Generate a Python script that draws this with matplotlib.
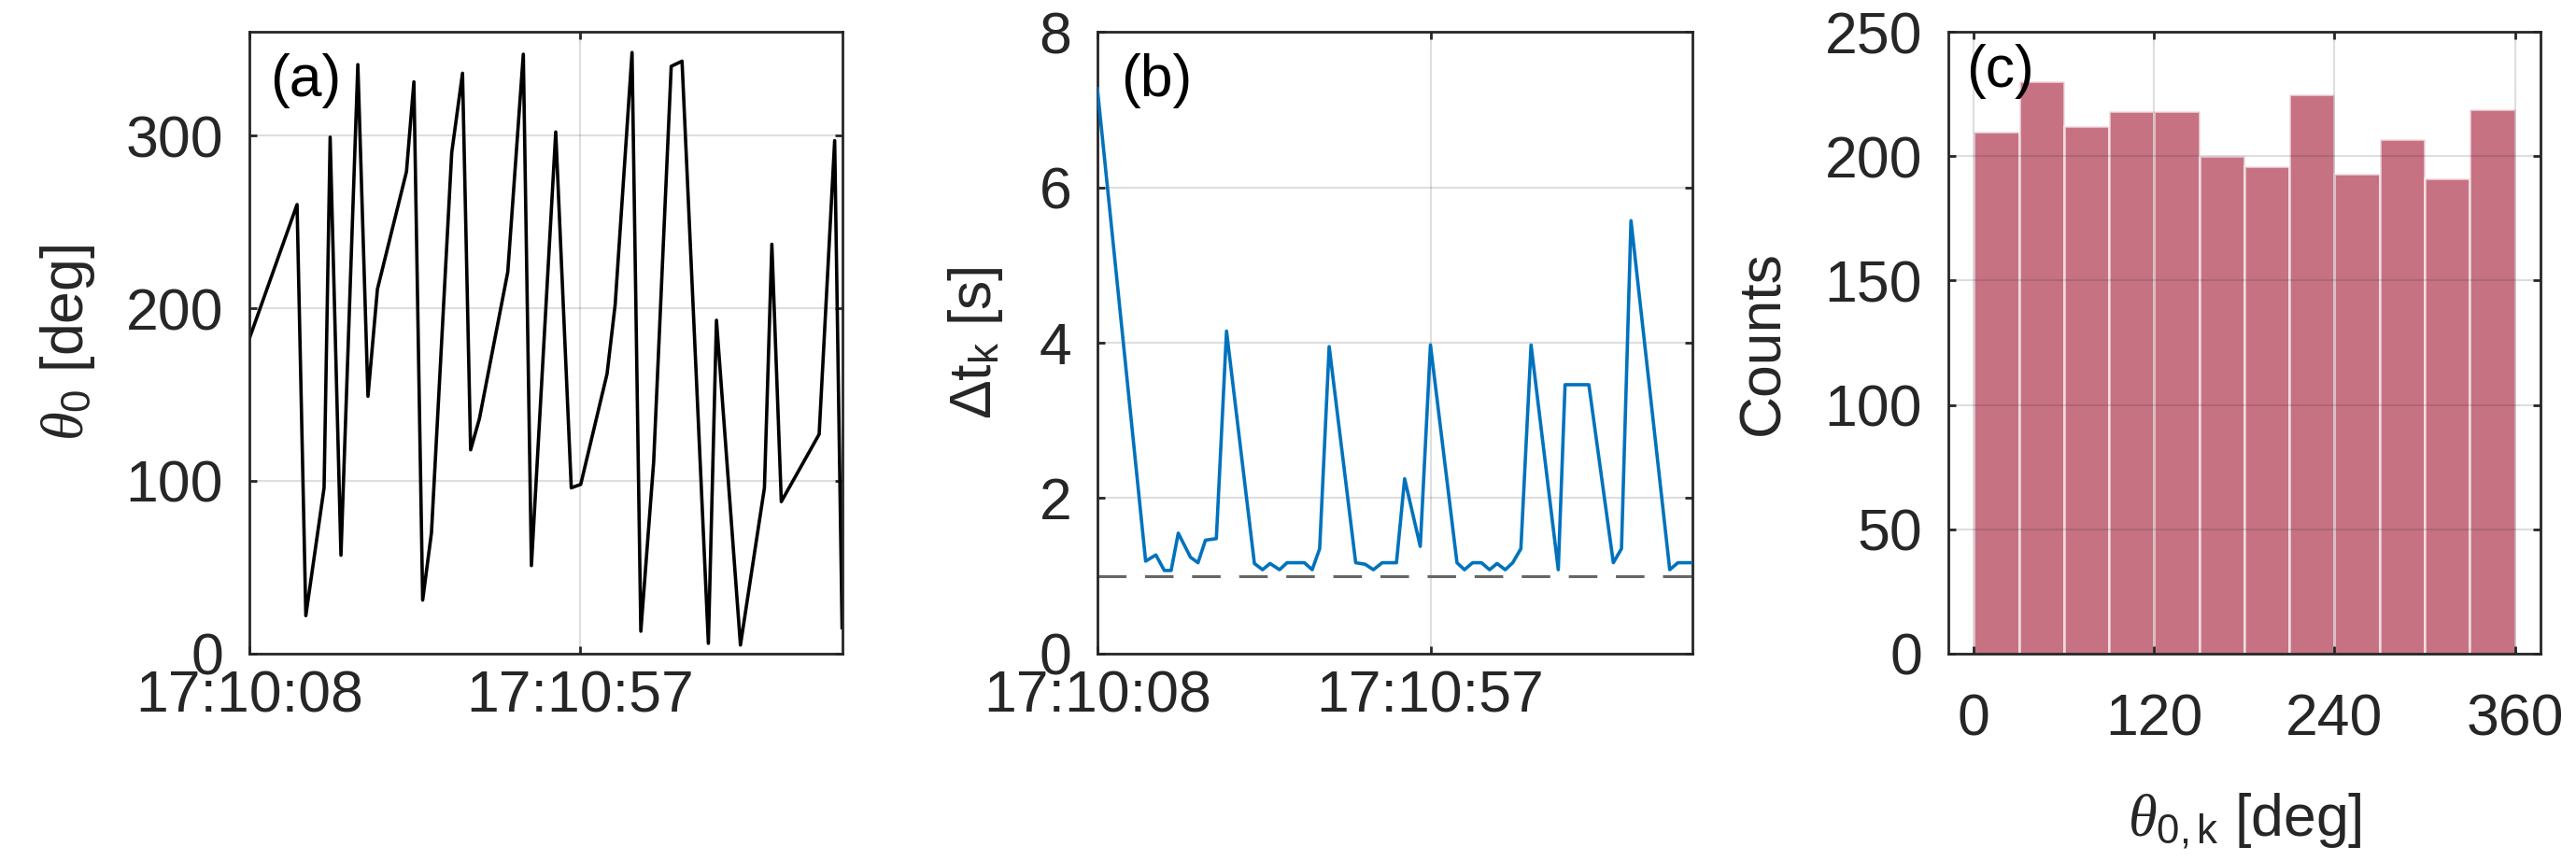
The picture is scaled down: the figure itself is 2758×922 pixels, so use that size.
import matplotlib
matplotlib.use('Agg')
import matplotlib.pyplot as plt

plt.rcParams['font.family'] = ['Liberation Sans', 'DejaVu Sans']
plt.rcParams['mathtext.fontset'] = 'custom'
plt.rcParams['mathtext.rm'] = 'Liberation Sans'
plt.rcParams['mathtext.it'] = 'Liberation Serif:italic'

# (a) start angle vs time, seconds after 17:10:08
t_a = [0, 7.1, 8.4, 11.1, 12.0, 13.6, 16.1, 17.6, 19.0, 23.3, 24.4, 25.7, 27.0,
       30.0, 31.6, 32.8, 34.1, 38.3, 40.6, 41.8, 45.4, 47.7, 49.1, 53.0, 54.2,
       56.7, 58.0, 59.9, 62.5, 64.1, 68.0, 69.2, 72.75, 76.3, 77.4, 78.8, 84.4,
       86.7, 87.8]
theta0 = [182, 260, 22, 96, 299, 57, 341, 149, 211, 279, 331, 31, 70,
          290, 336, 118, 136, 221, 347, 51, 302, 96, 98, 162, 202,
          348, 13, 111, 340, 343, 6, 193, 5, 96, 237, 88, 127,
          297, 15]

# (b) time between events
t_b = [0, 7.1, 8.6, 9.85, 10.85, 11.9, 13.7, 14.8, 15.9, 17.5, 19.0, 23.1, 24.3,
       25.4, 26.8, 27.9, 30.45, 31.6, 32.7, 34.1, 38.0, 39.4, 40.6, 41.9, 44.0,
       45.2, 47.5, 49.0, 52.9, 54.0, 55.2, 56.5, 57.7, 58.8, 60.0, 61.1, 62.3,
       63.8, 67.8, 68.8, 72.3, 75.9, 77.1, 78.5, 84.2, 85.4, 87.5]
dt_k = [7.27, 1.19, 1.27, 1.07, 1.07, 1.55, 1.24, 1.17, 1.46, 1.48, 4.15, 1.16, 1.08,
        1.16, 1.08, 1.17, 1.17, 1.08, 1.35, 3.95, 1.17, 1.15, 1.08, 1.17, 1.17,
        2.25, 1.38, 3.97, 1.17, 1.08, 1.17, 1.17, 1.08, 1.16, 1.08, 1.17, 1.35,
        3.97, 1.08, 3.46, 3.46, 1.17, 1.35, 5.57, 1.08, 1.17, 1.17]
dt_min = 1.0

time_ticks = [0, 49]
time_labels = ['17:10:08', '17:10:57']

# (c) histogram of start angles
bin_edges = [0, 30, 60, 90, 120, 150, 180, 210, 240, 270, 300, 330, 360]
counts = [210, 230, 212, 218, 218, 200, 196, 225, 193, 207, 191, 219]

txt = '#262626'
fs = 45

fig = plt.figure(figsize=(27.58, 9.22), dpi=100)
ax_a = fig.add_axes([0.0967, 0.2408, 0.2302, 0.7223])
ax_b = fig.add_axes([0.4260, 0.2408, 0.2309, 0.7223])
ax_c = fig.add_axes([0.7563, 0.2408, 0.2299, 0.7223])


def style(ax, xpad):
    for s in ax.spines.values():
        s.set_linewidth(2.0)
        s.set_color(txt)
    ax.tick_params(direction='in', length=6, width=2.0, top=True, right=True,
                   labelsize=fs, colors=txt)
    ax.tick_params(axis='y', pad=20)
    ax.tick_params(axis='x', pad=xpad)
    ax.grid(True, color='#262626', alpha=0.15, linewidth=1.5)


# panel a
ax_a.plot(t_a, theta0, color='black', lw=2.6)
ax_a.set_xlim(0, t_a[-1])
ax_a.set_ylim(0, 360)
ax_a.set_yticks([0, 100, 200, 300])
ax_a.set_xticks(time_ticks)
ax_a.set_xticklabels(time_labels)
ax_a.set_ylabel(r'$\theta_0$ [deg]', fontsize=fs, color=txt, labelpad=22)
style(ax_a, 12)
ax_a.text(0.035, 0.965, '(a)', transform=ax_a.transAxes, fontsize=fs,
          va='top', ha='left', color='black')

# panel b
ax_b.plot(t_b, dt_k, color='#0072BD', lw=2.6, zorder=3)
ax_b.axhline(dt_min, color='#666666', lw=2.2, dashes=(10, 6.5), zorder=2)
ax_b.set_xlim(0, t_b[-1])
ax_b.set_ylim(0, 8)
ax_b.set_yticks([0, 2, 4, 6, 8])
ax_b.set_xticks(time_ticks)
ax_b.set_xticklabels(time_labels)
ax_b.set_ylabel(r'$\Delta$t$_\mathrm{k}$ [s]', fontsize=fs, color=txt, labelpad=26)
style(ax_b, 12)
ax_b.text(0.04, 0.965, '(b)', transform=ax_b.transAxes, fontsize=fs,
          va='top', ha='left', color='black')

# panel c
ax_c.hist(bin_edges[:-1], bins=bin_edges, weights=counts, color='#A2142F',
          alpha=0.6, edgecolor='white', linewidth=2)
ax_c.set_xlim(-17, 377)
ax_c.set_ylim(0, 250)
ax_c.set_xticks([0, 120, 240, 360])
ax_c.set_yticks([0, 50, 100, 150, 200, 250])
ax_c.set_ylabel('Counts', fontsize=fs, color=txt, labelpad=26)
ax_c.set_xlabel(r'$\theta_{\mathrm{0,k}}$ [deg]', fontsize=fs, color=txt, labelpad=34)
style(ax_c, 30)
ax_c.set_axisbelow(False)
ax_c.text(0.03, 0.98, '(c)', transform=ax_c.transAxes, fontsize=fs,
          va='top', ha='left', color='black')

fig.savefig('out.png', dpi=100)
